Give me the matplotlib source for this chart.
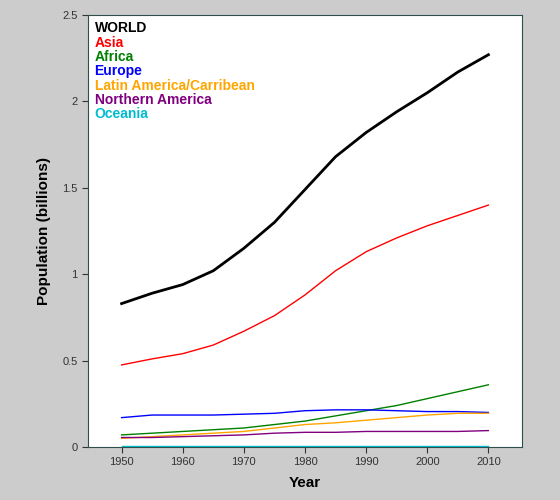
import numpy as np
import matplotlib.pyplot as plt

plt.rcParams['font.family'] = ['Liberation Sans', 'DejaVu Sans']

years = [1950, 1955, 1960, 1965, 1970, 1975, 1980, 1985, 1990, 1995, 2000, 2005, 2010]
world = [0.83, 0.89, 0.94, 1.02, 1.15, 1.30, 1.49, 1.68, 1.82, 1.94, 2.05, 2.17, 2.27]
asia = [0.475, 0.51, 0.54, 0.59, 0.67, 0.76, 0.88, 1.02, 1.13, 1.21, 1.28, 1.34, 1.40]
africa = [0.07, 0.08, 0.09, 0.10, 0.11, 0.13, 0.15, 0.18, 0.21, 0.24, 0.28, 0.32, 0.36]
europe = [0.17, 0.185, 0.185, 0.185, 0.19, 0.195, 0.21, 0.215, 0.215, 0.21, 0.205, 0.205, 0.20]
latam = [0.05, 0.06, 0.07, 0.08, 0.09, 0.11, 0.13, 0.14, 0.155, 0.17, 0.185, 0.195, 0.195]
namerica = [0.055, 0.055, 0.06, 0.065, 0.07, 0.08, 0.085, 0.085, 0.09, 0.09, 0.09, 0.09, 0.095]
oceania = [0.005, 0.005, 0.005, 0.005, 0.005, 0.005, 0.005, 0.005, 0.005, 0.005, 0.005, 0.005, 0.005]

series = [
    ("WORLD", world, "black", 2.0),
    ("Asia", asia, "red", 1.0),
    ("Africa", africa, "green", 1.0),
    ("Europe", europe, "blue", 1.0),
    ("Latin America/Carribean", latam, "orange", 1.0),
    ("Northern America", namerica, "purple", 1.0),
    ("Oceania", oceania, "#00bcd0", 1.0),
]

fig = plt.figure(figsize=(5.6, 5.0), dpi=100, facecolor="#cccccc")
ax = fig.add_axes([88/560, 53/500, 434/560, 432/500])
for name, vals, col, lw in series:
    ax.plot(years, vals, color=col, lw=lw)

ax.set_xlim(1944.5, 2015.5)
ax.set_ylim(0, 2.5)
ax.set_xticks([1950, 1960, 1970, 1980, 1990, 2000, 2010])
ax.set_yticks([0, 0.5, 1, 1.5, 2, 2.5])
ax.set_yticklabels(["0", "0.5", "1", "1.5", "2", "2.5"])
ax.tick_params(labelsize=8, colors="#333333", length=4)
for s in ax.spines.values():
    s.set_color("#2f4f4f")
ax.set_xlabel("Year", fontsize=11, fontweight="bold", labelpad=6)
ax.set_ylabel("Population (billions)", fontsize=11, fontweight="bold", labelpad=8)

for i, (name, vals, col, lw) in enumerate(series):
    ax.text(0.015, 0.985 - i*0.033, name, transform=ax.transAxes, color=col,
            fontsize=10, fontweight="bold", va="top", ha="left")

fig.savefig("out.png", dpi=100, facecolor=fig.get_facecolor())
